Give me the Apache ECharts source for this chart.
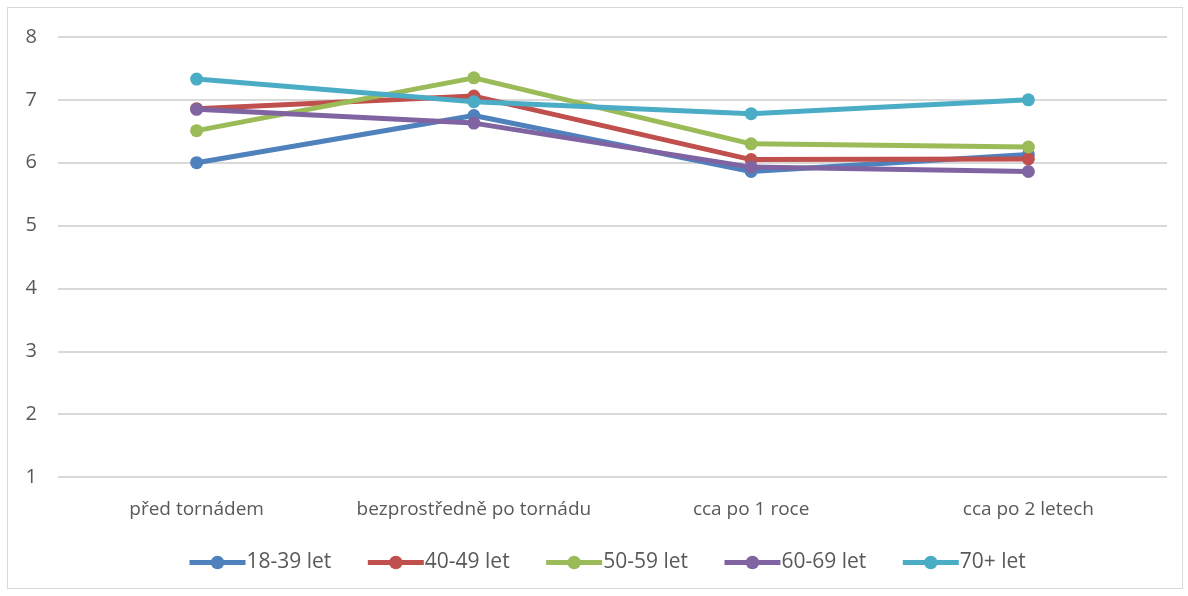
<!DOCTYPE html>
<html><head><meta charset="utf-8">
<script src="https://cdn.jsdelivr.net/npm/echarts@6/dist/echarts.min.js"></script>
<style>
html,body{margin:0;padding:0;background:#fff;}
#wrap{position:absolute;left:7px;top:7px;width:1174px;height:580px;border:1px solid #d9d9d9;}
#c{position:absolute;left:-8px;top:-8px;width:1188px;height:596px;}
</style></head>
<body><div id="wrap"><div id="c"></div></div>
<script>
const categories = ['před tornádem', 'bezprostředně po tornádu', 'cca po 1 roce', 'cca po 2 letech'];
const seriesNames = ['18-39 let', '40-49 let', '50-59 let', '60-69 let', '70+ let'];
const s1839 = [6.00, 6.75, 5.86, 6.13];
const s4049 = [6.86, 7.06, 6.05, 6.06];
const s5059 = [6.51, 7.35, 6.30, 6.25];
const s6069 = [6.85, 6.63, 5.93, 5.86];
const s70 = [7.33, 6.97, 6.78, 7.00];
const colors = ['#4F81BD', '#C0504D', '#9BBB59', '#8064A2', '#4BACC6'];
const values = [s1839, s4049, s5059, s6069, s70];

const chart = echarts.init(document.getElementById('c'));
chart.setOption({
  animation: false,
  color: colors,
  textStyle: {fontFamily: 'Open Sans', color: '#595959'},
  grid: {left: 58, right: 21, top: 37, bottom: 119},
  legend: {
    bottom: 18, left: 182, itemWidth: 56, itemHeight: 17, itemGap: 34,
    lineStyle: {width: 5},
    textStyle: {fontSize: 21, color: '#595959', fontFamily: 'Open Sans', padding: [0,0,0,-4]},
    data: seriesNames
  },
  xAxis: {
    type: 'category', data: categories, boundaryGap: true,
    axisLine: {show: false}, axisTick: {show: false},
    axisLabel: {fontSize: 19, color: '#595959', margin: 23, interval: 0}
  },
  yAxis: {
    type: 'value', min: 1, max: 8, interval: 1,
    axisLine: {show: false}, axisTick: {show: false},
    axisLabel: {fontSize: 20, color: '#595959', margin: 21},
    splitLine: {lineStyle: {color: '#d9d9d9', width: 2}}
  },
  series: seriesNames.map((n, i) => ({
    name: n, type: 'line', data: values[i],
    symbol: 'circle', symbolSize: 13,
    lineStyle: {width: 5, color: colors[i]},
    itemStyle: {color: colors[i]}
  }))
});
</script></body></html>
